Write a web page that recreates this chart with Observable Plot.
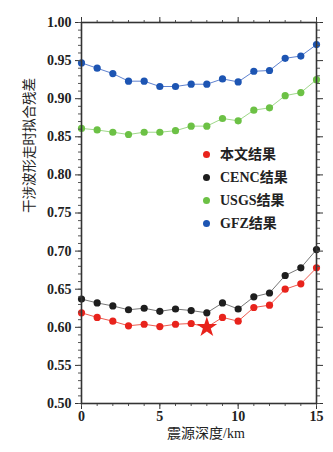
<!DOCTYPE html>
<html><head><meta charset="utf-8">
<script src="https://cdn.jsdelivr.net/npm/d3@7"></script>
<script src="https://cdn.jsdelivr.net/npm/@observablehq/plot@0.6"></script>
<style>
body{margin:0;background:#fff;}
#wrap{position:relative;width:333px;height:452px;}
#legend{position:absolute;left:203px;top:143px;font-family:"Liberation Serif","Noto Sans CJK SC",serif;font-weight:bold;font-size:14px;color:#222;}
#legend div{height:23px;line-height:18px;display:flex;align-items:center;}
#legend span.dot{display:inline-block;width:7px;height:7px;border-radius:50%;margin-right:10px;}
</style>
</head><body><div id="wrap"></div>
<script>
const depth = [0,1,2,3,4,5,6,7,8,9,10,11,12,13,14,15];
const oursVals = [0.619,0.613,0.608,0.602,0.604,0.601,0.604,0.605,0.600,0.613,0.608,0.626,0.629,0.650,0.657,0.678];
const cencVals = [0.637,0.632,0.628,0.623,0.625,0.621,0.624,0.622,0.619,0.632,0.624,0.640,0.645,0.668,0.678,0.702];
const usgsVals = [0.861,0.859,0.856,0.853,0.856,0.856,0.858,0.864,0.864,0.874,0.871,0.885,0.888,0.904,0.908,0.925];
const gfzVals  = [0.947,0.940,0.933,0.923,0.923,0.916,0.916,0.919,0.919,0.926,0.922,0.936,0.937,0.953,0.956,0.971];
const seriesNames = ["本文结果","CENC结果","USGS结果","GFZ结果"];
const dotColors = ["#e8231c","#1e1e1e","#6cc145","#1d55b3"];
const lineColors = ["#ee5a4f","#777777","#9fd88a","#5f82cf"];
const bestDepth = 8;
const yMajor = [0.50,0.55,0.60,0.65,0.70,0.75,0.80,0.85,0.90,0.95,1.00];
const xMajor = [0,5,10,15];
const xLabel = "震源深度/km";
const yLabel = "干涉波形走时拟合残差";

const allVals = [oursVals,cencVals,usgsVals,gfzVals];
const rows = [];
allVals.forEach((vals,si)=>vals.forEach((v,i)=>rows.push({s:si,x:depth[i],y:v})));
const yMinor = d3.range(50,101,1).map(d=>d/100);

const font = '"Liberation Serif","Noto Sans CJK SC",serif';
const marks = [];
for (let si=3; si>=0; si--) {
  const r = rows.filter(d=>d.s===si);
  marks.push(Plot.line(r,{x:"x",y:"y",stroke:lineColors[si],strokeWidth:1}));
  marks.push(Plot.dot(r.filter(d=>!(si===0 && d.x===bestDepth)),{x:"x",y:"y",r:3.6,fill:dotColors[si]}));
}
marks.push(Plot.dot(rows.filter(d=>d.s===0 && d.x===bestDepth),{x:"x",y:"y",symbol:"star",r:6.5,fill:dotColors[0]}));

marks.push(
  Plot.axisY({ticks:yMajor,tickSize:6,tickPadding:4,tickFormat:".2f",label:null,fontFamily:font,fontWeight:"bold",fontSize:14,stroke:"#333"}),
  Plot.axisY({ticks:yMinor,tickSize:3,text:null,label:null,stroke:"#555"}),
  Plot.axisY({anchor:"right",ticks:yMajor,tickSize:6,text:null,label:null,stroke:"#333"}),
  Plot.axisY({anchor:"right",ticks:yMinor,tickSize:3,text:null,label:null,stroke:"#555"}),
  Plot.axisX({ticks:xMajor,tickSize:6,tickPadding:2,tickFormat:d=>String(d),label:null,fontFamily:font,fontWeight:"bold",fontSize:14,stroke:"#333"}),
  Plot.axisX({ticks:depth,tickSize:3,text:null,label:null,stroke:"#555"}),
  Plot.axisX({anchor:"top",ticks:xMajor,tickSize:6,text:null,label:null,stroke:"#333"}),
  Plot.axisX({anchor:"top",ticks:depth,tickSize:3,text:null,label:null,stroke:"#555"}),
  Plot.frame({stroke:"#333",strokeWidth:1.6}),
  Plot.text([yLabel],{text:d=>d,frameAnchor:"left",rotate:-90,dx:-52,fontSize:13.5,fontFamily:font,fill:"#222"}),
  Plot.text([xLabel],{text:d=>d,frameAnchor:"bottom",dy:34,dx:7,fontSize:14,fontFamily:font,fill:"#222"})
);

const chart = Plot.plot({
  width:333,height:452,
  marginLeft:81,marginRight:17,marginTop:22,marginBottom:49,
  x:{domain:[0,15]},
  y:{domain:[0.5,1.0]},
  style:{fontFamily:font,background:"#fff",color:"#222"},
  marks
});
const wrap = document.getElementById("wrap");
wrap.appendChild(chart);
const leg = document.createElement("div");
leg.id="legend";
seriesNames.forEach((n,i)=>{
  const row=document.createElement("div");
  const dot=document.createElement("span");dot.className="dot";dot.style.background=dotColors[i];
  row.appendChild(dot);row.appendChild(document.createTextNode(n));
  leg.appendChild(row);
});
wrap.appendChild(leg);
</script></body></html>
